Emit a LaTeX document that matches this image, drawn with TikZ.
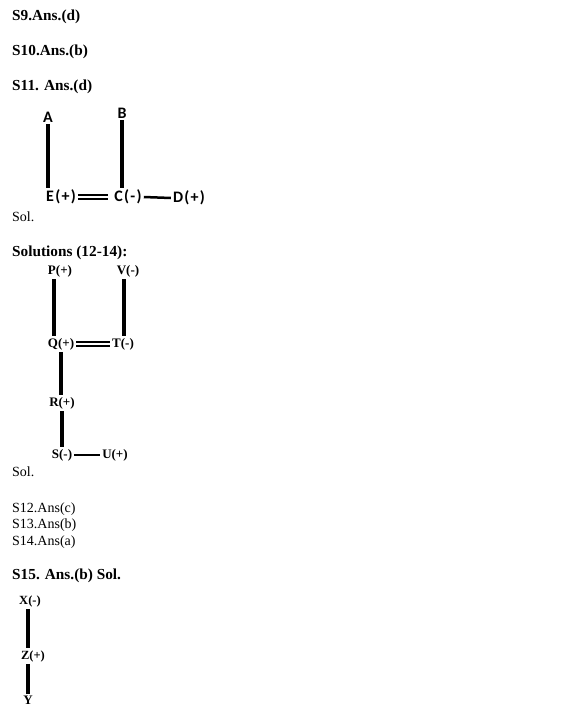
\documentclass[tikz,border=0pt]{standalone}
\usepackage{fontspec}
\setmainfont{Liberation Serif}
\newfontfamily\calfont[LetterSpace=8]{Carlito}
\usetikzlibrary{positioning, calc}
\tikzset{
  heading/.style={anchor=base west, inner sep=0pt, font=\bfseries\fontsize{15.3}{18}\selectfont}, % answer lines
  plain/.style={anchor=base west, inner sep=0pt, font=\fontsize{14}{16}\selectfont},
  sanslabel/.style={inner sep=2pt, font=\calfont\bfseries\fontsize{16}{18}\selectfont}, % S11 people
  seriflabel/.style={inner sep=2pt, font=\bfseries\fontsize{13}{15}\selectfont},
  smalllabel/.style={inner sep=2pt, font=\bfseries\fontsize{12.5}{14}\selectfont},
  link/.style={line width=3.2pt},
  flatlink/.style={line width=2.5pt},
  dbl/.style={double, double distance=1.6pt, line width=2.3pt},
}
\begin{document}
\begin{tikzpicture}[x=1pt, y=-1pt]
	\useasboundingbox[fill=white] (0,0) rectangle (585,709);

	% answers
	\node[heading] (s9) at (12,21) {S9.Ans.(d)};
	\node[heading] (s10) at (12,56) {S10.Ans.(b)};
	\node[heading] (s11) at (12,90) {S11. Ans.(d)};

	% S11
	\node[sanslabel] (A) at (48,117) {A};
	\node[sanslabel] (B) at (122,113) {B};
	\node[sanslabel] (E) at (61,197) {E(+)};
	\node[sanslabel] (C) at (128,197) {C(-)};
	\node[sanslabel] (D) at (189,198) {D(+)};
	\draw[link] (A.south) -- (A.south |- E.north);
	\draw[link] (B.south) -- (B.south |- C.north);
	\draw[dbl, shorten >=4pt] (E.east) -- (C.west);
	\draw[flatlink] (C.east) -- (D.west);
	\node[plain] (sol11) at (12,221) {Sol.};

	% 12-14
	\node[heading] (s1214) at (12,256) {Solutions (12-14):};
	\node[seriflabel] (P) at (60,271) {P(+)};
	\node[seriflabel] (V) at (128,271) {V(-)};
	\node[seriflabel] (Q) at (61,344) {Q(+)};
	\node[seriflabel] (T) at (123,344) {T(-)};
	\node[seriflabel] (R) at (62,403) {R(+)};
	\node[seriflabel] (S) at (62,455) {S(-)};
	\node[seriflabel] (U) at (115,455) {U(+)};
	\draw[link] ([xshift=-6pt]P.south) -- ([xshift=-6pt]P.south |- Q.north);
	\draw[link] ([xshift=-4pt]V.south) -- ([xshift=-4pt]V.south |- T.north);
	\draw[dbl] (Q.east) -- (T.west);
	\draw[link] (Q.south) -- (Q.south |- R.north);
	\draw[link] (R.south) -- (R.south |- S.north);
	\draw[flatlink] (S.east) -- (U.west);
	\node[plain] (sol1214) at (12,476) {Sol.};

	\node[plain] (s12) at (12,512) {S12.Ans(c)};
	\node[plain] (s13) at (12,528) {S13.Ans(b)};
	\node[plain] (s14) at (12,545) {S14.Ans(a)};

	% S15
	\node[heading] (s15) at (12,579) {S15. Ans.(b) Sol.};
	\node[smalllabel] (X) at (30,601) {X(-)};
	\node[smalllabel] (Z) at (33,656) {Z(+)};
	\node[seriflabel] (Y) at (28,700) {Y};
	\draw[link] ([xshift=-2pt]X.south) -- ([xshift=-2pt]X.south |- Z.north);
	\draw[link] (Y.north |- Z.south) -- (Y.north);
\end{tikzpicture}
\end{document}
